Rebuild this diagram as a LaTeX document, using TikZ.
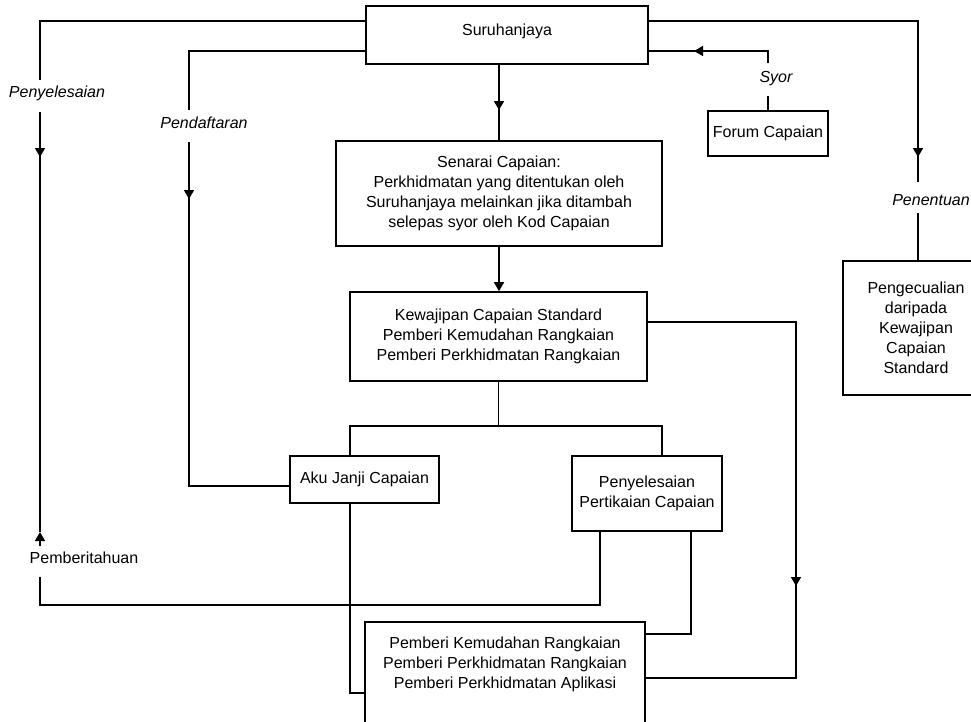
\documentclass[tikz,border=0pt]{standalone}
\usepackage{fontspec}
\setmainfont{Liberation Sans}
\usetikzlibrary{arrows.meta}
\begin{document}
\begin{tikzpicture}[x=1pt,y=-1pt,
  every node/.style={font=\fontsize{16}{20}\selectfont},
  box/.style={draw, line width=1.6pt, inner sep=0pt, align=center},
  lbl/.style={inner sep=0pt},
  ilbl/.style={inner sep=0pt, font=\fontsize{16}{20}\selectfont\itshape},
  conn/.style={line width=1.6pt},
  arr/.style={conn, -{Triangle[length=9pt,width=10pt]}}]
\useasboundingbox (0,0) rectangle (971,721);
\clip (0,0) rectangle (971,721);

% boxes
\node[box, minimum width=282pt, minimum height=58pt, text depth=11pt] (sur) at (507,35) {Suruhanjaya};
\node[box, minimum width=120pt, minimum height=45pt] (forum) at (768,133.5) {Forum Capaian};
\node[box, minimum width=146pt, minimum height=134pt] (peng) at (916,328) {Pengecualian\\daripada\\Kewajipan\\Capaian\\Standard};
\node[box, minimum width=326pt, minimum height=105pt] (sen) at (499,193.5) {Senarai Capaian:\\Perkhidmatan yang ditentukan oleh\\Suruhanjaya melainkan jika ditambah\\selepas syor oleh Kod Capaian};
\node[box, minimum width=297pt, minimum height=89pt] (kew) at (498.5,336.5) {Kewajipan Capaian Standard\\Pemberi Kemudahan Rangkaian\\Pemberi Perkhidmatan Rangkaian};
\node[box, minimum width=149pt, minimum height=47pt] (aku) at (364.5,479.5) {Aku Janji Capaian};
\node[box, minimum width=150pt, minimum height=75pt] (pen) at (647,493.5) {Penyelesaian\\Pertikaian Capaian};
\node[box, minimum width=280pt, anchor=north, inner ysep=15pt, text depth=80pt] (pem) at (505,621) {Pemberi Kemudahan Rangkaian\\Pemberi Perkhidmatan Rangkaian\\Pemberi Perkhidmatan Aplikasi};

% labels
\node[ilbl] (lpeny) at (57,93) {Penyelesaian};
\node[ilbl] (lpend) at (204,123) {Pendaftaran};
\node[ilbl] (lsyor) at (776,79) {Syor};
\node[ilbl] (lpenen) at (931,200) {Penentuan};
\node[lbl] (lpemb) at (84,558) {Pemberitahuan};

% Penyelesaian / Pemberitahuan loop
\draw[conn] (sur.west |- 0,21) -- (40,21) -- (40,80);
\draw[arr] (40,112) -- (40,157);
\draw[conn] (40,155) -- (40,532);
\draw[arr] (40,546) -- (40,532);
\draw[conn] (pen.south -| 600,0) -- (600,605) -- (40,605) -- (40,577);

% Pendaftaran
\draw[conn] (sur.west |- 0,51) -- (189,51) -- (189,110);
\draw[arr] (189,142) -- (189,199);
\draw[conn] (189,197) -- (189,486) -- (aku.west |- 0,486);

% Aku Janji to Pemberi
\draw[conn] (aku.south -| 350,0) -- (350,693) -- (pem.west |- 0,693);

% Kewajipan branch
\draw[conn] (kew.south) -- (kew.south |- 0,426);
\draw[conn] (aku.north -| 350,0) -- (350,426) -- (662,426) -- (pen.north -| 662,0);

% Kewajipan right loop
\draw[arr] (kew.east |- 0,322) -- (796,322) -- (796,586);
\draw[conn] (796,584) -- (796,678) -- (pem.east |- 0,678);

% Penyelesaian Pertikaian to Pemberi
\draw[conn] (pen.south -| 691,0) -- (691,634) -- (pem.east |- 0,634);

% Suruhanjaya -> Senarai -> Kewajipan
\draw[arr] (sur.south -| sen.north) -- (499,110);
\draw[conn] (499,108) -- (sen.north);
\draw[arr] (sen.south) -- (kew.north -| sen.south);

% Syor
\draw[conn] (forum.north) -- (768,96);
\draw[arr] (768,63) -- (768,51) -- (694,51);
\draw[conn] (696,51) -- (sur.east |- 0,51);

% Penentuan
\draw[arr] (sur.east |- 0,21) -- (918,21) -- (918,157);
\draw[conn] (918,155) -- (918,182);
\draw[conn] (918,213) -- (peng.north -| 918,0);
\end{tikzpicture}
\end{document}
